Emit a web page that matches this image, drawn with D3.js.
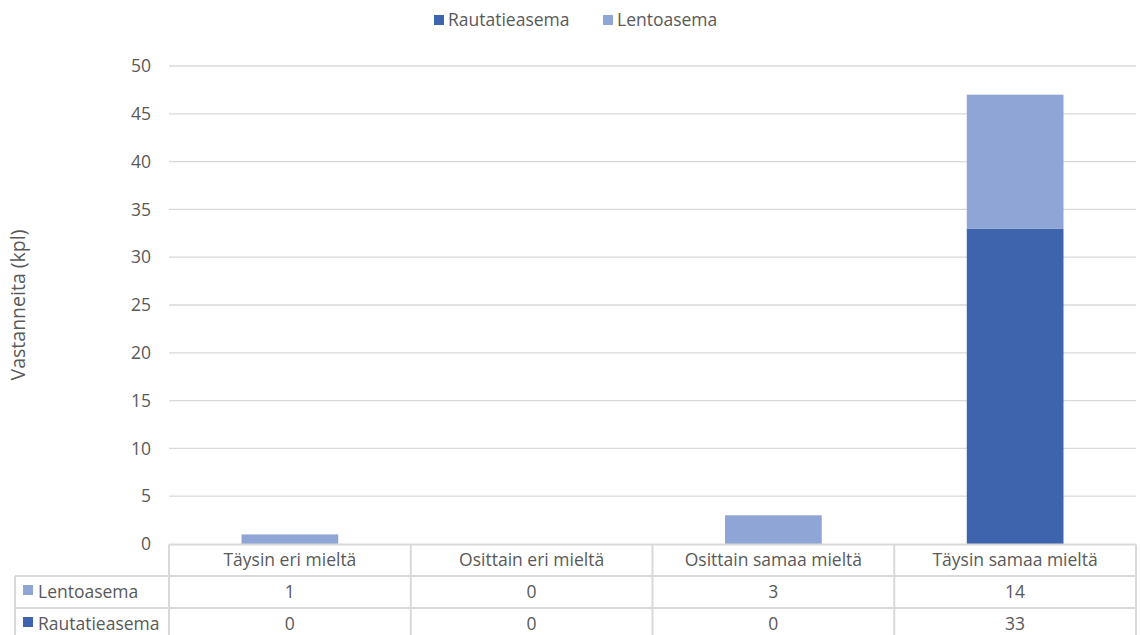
<!DOCTYPE html>
<html>
<head>
<meta charset="utf-8">
<script src="https://cdn.jsdelivr.net/npm/d3@7"></script>
<style>
  html, body { margin: 0; padding: 0; background: #fff; }
  svg { display: block; font-family: "Open Sans", "Noto Sans", sans-serif; }
</style>
</head>
<body>
<svg id="chart" width="1141" height="635"></svg>
<script>
// Survey responses per answer option, stacked by location
const categories = ["Täysin eri mieltä", "Osittain eri mieltä", "Osittain samaa mieltä", "Täysin samaa mieltä"];
const seriesNames = ["Rautatieasema", "Lentoasema"];
const rautatieasema = [0, 0, 0, 33];
const lentoasema = [1, 0, 3, 14];
const yTicks = [0, 5, 10, 15, 20, 25, 30, 35, 40, 45, 50];
const colors = { "Rautatieasema": "#3d64ad", "Lentoasema": "#8fa5d5" };

const svg = d3.select("#chart");
const textColor = "#595959";
const gridColor = "#d9d9d9";
const fs = "17.5px";

const plotLeft = 169, plotRight = 1136, plotTop = 66, plotBottom = 544;

const x = d3.scaleBand().domain(categories).range([plotLeft, plotRight]).paddingInner(0).paddingOuter(0);
const y = d3.scaleLinear().domain([0, 50]).range([plotBottom, plotTop]);

// Gridlines
svg.append("g").selectAll("line").data(yTicks.filter(d => d > 0)).join("line")
  .attr("x1", plotLeft).attr("x2", plotRight)
  .attr("y1", d => y(d)).attr("y2", d => y(d))
  .attr("stroke", gridColor).attr("stroke-width", 1.3);

// Y axis labels
const yAxis = d3.axisLeft(y).tickValues(yTicks).tickSize(0).tickPadding(18);
const yg = svg.append("g").attr("transform", `translate(${plotLeft},0)`).call(yAxis);
yg.select(".domain").remove();
yg.selectAll("text").attr("fill", textColor).style("font-size", fs)
  .style("font-family", "'Open Sans', 'Noto Sans', sans-serif");

// Y axis title
svg.append("text")
  .attr("transform", `translate(25,${(plotTop + plotBottom) / 2}) rotate(-90)`)
  .attr("text-anchor", "middle")
  .attr("fill", textColor).style("font-size", "19.5px")
  .text("Vastanneita (kpl)");

// Stacked bars
const rows = categories.map((c, i) => ({ cat: c, Rautatieasema: rautatieasema[i], Lentoasema: lentoasema[i] }));
const stack = d3.stack().keys(seriesNames)(rows);
const barW = x.bandwidth() * 0.4;
svg.append("g").selectAll("g").data(stack).join("g")
  .attr("fill", d => colors[d.key])
  .selectAll("rect").data(d => d).join("rect")
  .attr("x", d => x(d.data.cat) + (x.bandwidth() - barW) / 2)
  .attr("width", barW)
  .attr("y", d => y(d[1]))
  .attr("height", d => y(d[0]) - y(d[1]));

// Data table below the plot
const rowLines = [544.5, 576, 608];
const tableLeft = 15;
const tbl = svg.append("g").attr("stroke", gridColor).attr("stroke-width", 2);
tbl.append("line").attr("x1", plotLeft).attr("x2", plotRight).attr("y1", rowLines[0]).attr("y2", rowLines[0]);
tbl.append("line").attr("x1", tableLeft).attr("x2", plotRight).attr("y1", rowLines[1]).attr("y2", rowLines[1]);
tbl.append("line").attr("x1", tableLeft).attr("x2", plotRight).attr("y1", rowLines[2]).attr("y2", rowLines[2]);
const vxs = categories.map(c => x(c)).concat([plotRight]);
tbl.selectAll(".v").data(vxs).join("line")
  .attr("x1", d => d).attr("x2", d => d).attr("y1", rowLines[0]).attr("y2", 635);
tbl.append("line").attr("x1", tableLeft).attr("x2", tableLeft).attr("y1", rowLines[1]).attr("y2", 635);

// Category headers
svg.append("g").selectAll("text").data(categories).join("text")
  .attr("x", d => x(d) + x.bandwidth() / 2).attr("y", 566)
  .attr("text-anchor", "middle").attr("fill", textColor).style("font-size", fs)
  .text(d => d);

// Table rows: Lentoasema first, then Rautatieasema
const tableRows = [
  { name: "Lentoasema", values: lentoasema, y: 598 },
  { name: "Rautatieasema", values: rautatieasema, y: 630 }
];
tableRows.forEach(r => {
  svg.append("rect").attr("x", 23).attr("y", r.y - 13).attr("width", 10).attr("height", 10).attr("fill", colors[r.name]);
  svg.append("text").attr("x", 38).attr("y", r.y).attr("fill", textColor).style("font-size", fs).text(r.name);
  svg.append("g").selectAll("text").data(categories).join("text")
    .attr("x", d => x(d) + x.bandwidth() / 2).attr("y", r.y)
    .attr("text-anchor", "middle").attr("fill", textColor).style("font-size", fs)
    .text((d, i) => r.values[i]);
});

// Legend
const legend = svg.append("g");
const legendItems = [
  { name: "Rautatieasema", x: 434 },
  { name: "Lentoasema", x: 603 }
];
legendItems.forEach(l => {
  legend.append("rect").attr("x", l.x).attr("y", 15).attr("width", 10).attr("height", 10).attr("fill", colors[l.name]);
  legend.append("text").attr("x", l.x + 14).attr("y", 26).attr("fill", textColor).style("font-size", fs).text(l.name);
});
</script>
</body>
</html>
